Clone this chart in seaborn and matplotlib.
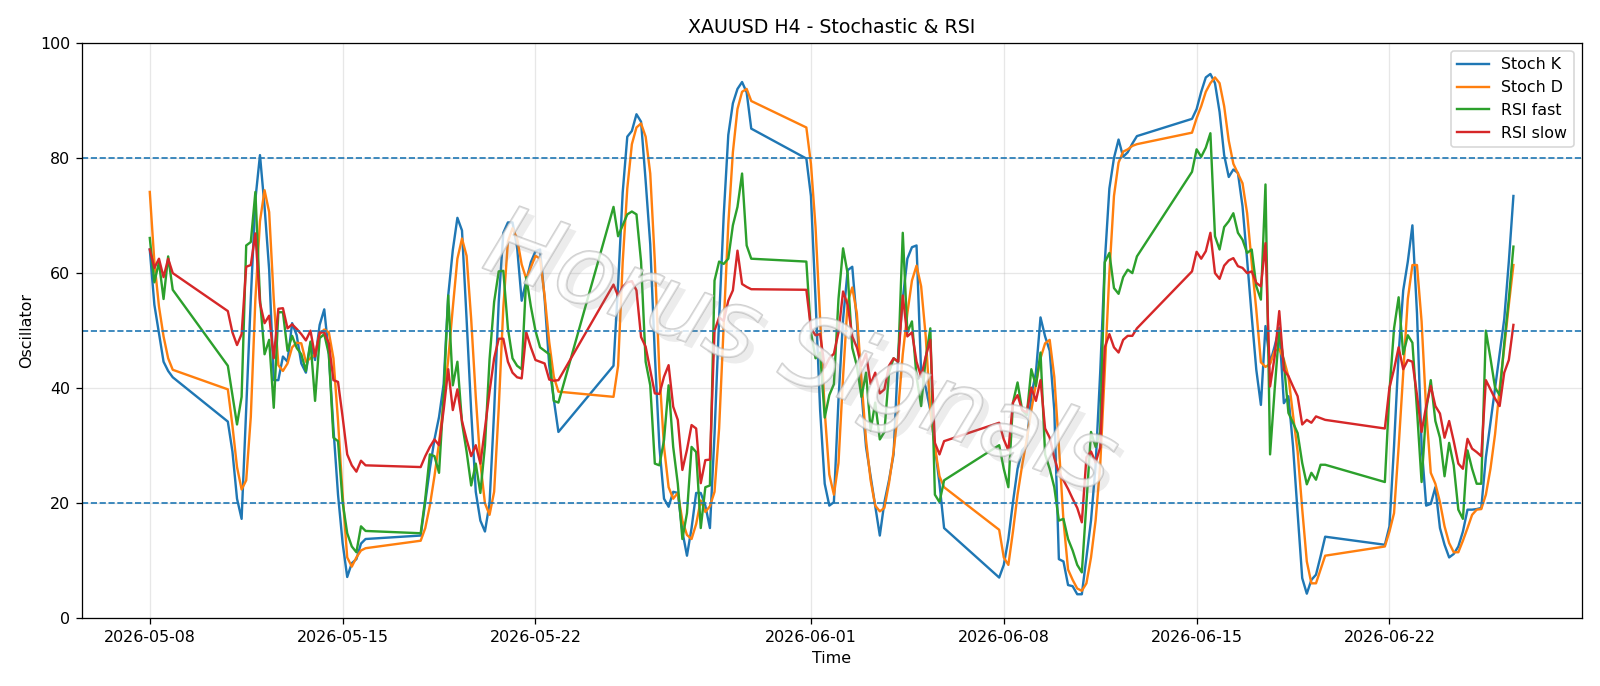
import numpy as np
import pandas as pd
import matplotlib
matplotlib.use("Agg")
import matplotlib.pyplot as plt
import matplotlib.patheffects as pe
import seaborn as sns

# H4 trading sessions (Sunday evening open -> Friday close)
sessions = [
    ("2026-05-08 00:00", "2026-05-08 20:00"),
    ("2026-05-10 20:00", "2026-05-15 20:00"),
    ("2026-05-17 20:00", "2026-05-22 20:00"),
    ("2026-05-24 20:00", "2026-05-29 20:00"),
    ("2026-05-31 20:00", "2026-06-05 20:00"),
    ("2026-06-07 20:00", "2026-06-12 20:00"),
    ("2026-06-14 20:00", "2026-06-19 16:00"),
    ("2026-06-21 20:00", "2026-06-26 12:00"),
]

stoch_k = [
    64.1, 54.5, 49.5, 44.6, 43.0, 41.9,
    34.2, 29.0, 20.8, 17.3, 36.2, 55.5, 72.8, 80.5, 71.5, 60.6, 41.4, 41.4, 45.5, 44.6, 51.3, 49.2, 44.3, 42.7, 47.8,
    44.9, 51.0, 53.7, 45.9, 33.0, 21.5, 13.1, 7.2, 9.6, 10.3, 13.0, 13.8,
    14.4, 20.2, 26.0, 31.1, 35.0, 40.7, 56.1, 64.0, 69.6, 67.4, 52.0, 36.0, 22.0, 17.0, 15.1, 20.0, 36.0, 55.0, 67.0,
    68.8, 68.8, 64.5, 55.2, 58.7, 61.9, 63.8, 64.1, 55.5, 43.9, 38.0, 32.4,
    43.9, 58.0, 74.0, 83.7, 84.7, 87.6, 86.3, 76.0, 65.0, 45.9, 29.8, 20.8, 19.4, 22.0, 21.8, 15.1, 10.9, 15.7, 21.8,
    21.8, 19.6, 15.7, 32.0, 52.0, 70.0, 84.0, 89.5, 92.0, 93.2, 91.4, 85.1,
    79.9, 73.4, 55.5, 36.2, 23.4, 19.6, 20.2, 38.0, 52.0, 60.5, 61.1, 51.6, 39.4, 29.8, 24.7, 19.6, 14.4, 20.2, 24.0,
    28.5, 45.9, 55.5, 62.5, 64.5, 64.8, 42.7, 40.1, 36.2, 29.8, 23.4, 15.7,
    7.1, 9.3, 13.8, 20.2, 26.0, 29.2, 30.1, 38.8, 42.7, 52.3, 49.0, 46.5, 36.2, 10.3, 9.9, 5.8, 5.6, 4.2, 4.2,
    10.6, 17.0, 26.6, 42.7, 61.9, 74.7, 80.0, 83.2, 80.2, 81.0, 82.5, 83.8,
    86.8, 88.5, 91.5, 94.0, 94.6, 93.0, 88.0, 80.5, 76.7, 78.0, 77.4, 71.6, 62.3, 52.5, 43.2, 37.1, 50.8, 44.4, 47.3,
    50.5, 37.4, 38.6, 29.9, 18.3, 7.0, 4.3, 6.7, 7.6, 10.8, 14.2,
    12.8, 16.0, 30.0, 46.0, 57.0, 62.0, 68.3, 53.0, 30.0, 19.6, 19.9, 22.8, 15.7, 12.8, 10.6, 11.2, 12.5, 15.1, 18.9,
    18.9, 19.0, 19.2, 28.0, 34.0, 40.0, 46.0, 52.0, 62.0, 73.4,
]

stoch_d = [
    74.1, 61.9, 54.2, 49.0, 45.2, 43.2,
    39.8, 33.5, 26.3, 22.4, 24.0, 35.0, 55.5, 69.0, 74.4, 70.6, 55.5, 44.0, 43.0, 44.3, 47.1, 47.9, 47.8, 44.6, 45.2,
    45.9, 49.4, 50.2, 49.7, 45.2, 34.3, 21.5, 10.6, 9.0, 10.6, 11.8, 12.2,
    13.5, 15.7, 19.6, 24.7, 30.5, 37.5, 45.0, 54.0, 62.5, 66.0, 63.0, 52.0, 38.5, 27.0, 20.0, 18.0, 22.0, 36.5, 54.0,
    65.5, 67.8, 66.0, 61.5, 59.0, 61.0, 63.0, 62.5, 56.0, 48.0, 42.0, 39.4,
    38.5, 43.9, 61.9, 74.7, 82.4, 85.3, 86.0, 83.7, 77.3, 62.0, 42.7, 29.8, 22.8, 20.8, 21.8, 17.0, 14.5, 13.8, 16.4,
    20.5, 18.5, 19.5, 22.0, 33.0, 51.0, 68.5, 81.0, 88.5, 91.5, 92.0, 89.9,
    85.3, 79.0, 68.0, 52.0, 36.0, 25.0, 21.5, 27.0, 42.0, 55.0, 57.5, 53.0, 41.5, 31.0, 24.0, 19.6, 18.6, 19.2, 23.5,
    29.0, 36.2, 45.9, 53.0, 58.7, 61.3, 57.7, 49.0, 36.2, 29.8, 24.7, 22.8,
    15.4, 10.6, 9.3, 15.1, 21.5, 26.6, 31.1, 36.2, 40.7, 45.2, 47.8, 48.4, 42.0, 30.0, 17.0, 8.5, 6.7, 5.2, 4.8,
    6.1, 10.6, 17.0, 26.6, 43.0, 60.0, 73.4, 79.2, 81.1, 81.5, 82.1, 82.4,
    84.4, 86.9, 89.0, 91.5, 93.0, 94.0, 93.0, 89.0, 83.0, 79.0, 77.3, 75.6, 70.4, 61.8, 53.6, 44.5, 43.7, 44.2, 46.5,
    46.8, 45.0, 42.0, 35.3, 29.0, 19.0, 9.9, 6.1, 6.1, 8.5, 10.9,
    12.5, 15.1, 18.3, 29.8, 42.7, 55.5, 61.4, 61.4, 51.6, 36.2, 25.3, 23.4, 20.2, 16.0, 13.1, 11.5, 11.5, 13.5, 15.7,
    18.0, 18.9, 19.0, 21.5, 26.0, 32.0, 40.0, 47.0, 54.5, 61.4,
]

rsi_fast = [
    66.1, 58.4, 61.9, 55.5, 62.9, 57.1,
    43.9, 38.8, 33.7, 38.5, 64.8, 65.4, 74.1, 55.5, 45.9, 48.4, 36.6, 53.2, 53.2, 46.5, 49.1, 47.0, 45.9, 43.0, 48.1,
    37.8, 48.7, 49.4, 45.9, 31.4, 30.8, 20.2, 14.8, 12.5, 11.5, 16.0, 15.2,
    14.8, 20.8, 28.5, 28.2, 25.3, 38.8, 56.1, 40.5, 44.6, 34.0, 29.0, 23.1, 26.9, 21.8, 30.0, 45.0, 55.0, 60.3, 60.4,
    50.4, 45.2, 43.9, 43.3, 59.3, 54.2, 50.0, 47.1, 46.5, 45.9, 37.8, 37.5,
    71.5, 66.4, 68.3, 70.2, 70.7, 70.2, 62.0, 44.6, 40.5, 26.9, 26.6, 31.0, 40.5, 29.8, 23.4, 13.8, 18.3, 29.8, 28.9,
    15.7, 22.8, 23.1, 58.7, 62.0, 61.6, 62.5, 68.3, 71.5, 77.3, 64.8, 62.5,
    62.0, 49.7, 45.2, 46.2, 34.9, 38.8, 40.7, 55.5, 64.3, 59.9, 47.0, 43.9, 38.5, 42.7, 32.7, 37.5, 31.1, 32.4, 42.7,
    45.2, 44.6, 67.0, 49.7, 51.6, 42.0, 36.9, 45.2, 50.4, 21.5, 20.2, 24.0,
    30.1, 26.0, 22.8, 37.5, 41.0, 36.2, 35.3, 43.3, 40.4, 46.2, 28.5, 26.0, 22.8, 17.0, 17.3, 13.8, 11.8, 9.3, 8.0,
    20.0, 32.4, 29.8, 32.4, 61.9, 63.5, 57.4, 56.4, 59.3, 60.6, 60.0, 62.9,
    77.6, 81.5, 80.2, 81.8, 84.3, 66.4, 64.1, 68.0, 69.0, 70.4, 67.0, 65.8, 63.5, 64.1, 57.7, 55.4, 75.4, 28.5, 39.8,
    50.2, 44.4, 35.7, 34.0, 32.2, 27.0, 23.3, 25.3, 24.1, 26.7, 26.7,
    23.7, 39.4, 50.4, 55.8, 45.9, 49.2, 47.9, 36.2, 23.7, 36.2, 41.4, 34.3, 31.4, 24.7, 30.5, 26.6, 18.9, 17.3, 29.2,
    26.0, 23.4, 23.4, 50.0, 45.2, 40.1, 38.8, 47.8, 55.5, 64.6,
]

rsi_slow = [
    64.1, 60.9, 62.5, 59.3, 62.5, 60.0,
    53.4, 49.7, 47.5, 49.4, 61.1, 61.4, 66.9, 54.8, 51.3, 52.6, 45.2, 53.8, 53.9, 50.4, 51.1, 50.3, 49.4, 48.3, 50.0,
    45.5, 49.7, 49.7, 47.8, 41.4, 41.1, 35.0, 28.5, 26.6, 25.5, 27.4, 26.6,
    26.3, 28.2, 29.8, 31.1, 30.1, 36.2, 43.3, 36.2, 39.8, 34.3, 31.1, 28.2, 30.1, 26.9, 33.0, 39.4, 45.2, 48.6, 48.6,
    44.6, 42.7, 41.9, 41.7, 49.7, 47.1, 44.9, 44.6, 44.3, 41.5, 41.3, 41.4,
    58.0, 56.0, 57.6, 58.4, 58.6, 57.0, 48.9, 47.2, 43.1, 39.1, 39.0, 42.0, 44.0, 36.8, 34.5, 25.8, 29.3, 33.6, 33.0,
    23.5, 27.5, 27.6, 50.0, 52.3, 51.7, 55.2, 57.0, 63.9, 58.1, 57.6, 57.2,
    57.1, 50.4, 49.2, 49.4, 43.6, 45.2, 46.0, 49.7, 56.8, 54.5, 49.0, 47.1, 43.9, 46.0, 40.7, 42.7, 39.1, 39.8, 43.9,
    45.2, 44.6, 56.1, 49.0, 49.7, 44.6, 42.0, 45.5, 48.4, 30.5, 28.5, 30.8,
    34.0, 31.1, 29.2, 37.5, 38.8, 36.2, 35.8, 40.1, 37.8, 41.4, 33.0, 31.4, 27.9, 25.3, 24.0, 22.5, 20.8, 19.2, 16.7,
    28.0, 29.0, 27.1, 29.7, 47.1, 49.4, 47.1, 46.2, 48.4, 49.1, 49.1, 50.4,
    60.3, 63.7, 62.5, 63.8, 67.0, 60.0, 59.0, 61.3, 62.2, 62.6, 61.2, 60.9, 60.0, 60.3, 58.3, 57.7, 65.2, 40.3, 45.5,
    53.4, 43.2, 42.1, 40.3, 38.6, 33.7, 34.5, 34.0, 35.1, 34.8, 34.5,
    33.0, 40.1, 43.3, 47.1, 43.3, 44.9, 44.6, 38.8, 32.4, 36.9, 40.4, 36.9, 35.6, 31.4, 34.3, 30.8, 26.9, 26.0, 31.2,
    29.5, 28.9, 28.2, 41.4, 39.8, 38.2, 36.9, 42.7, 44.9, 51.0,
]

series_names = ["Stoch K", "Stoch D", "RSI fast", "RSI slow"]
levels = [20, 50, 80]

times = pd.DatetimeIndex(np.concatenate(
    [pd.date_range(a, b, freq="4h").values for a, b in sessions]))

df = pd.DataFrame({"time": times, "Stoch K": stoch_k, "Stoch D": stoch_d,
                   "RSI fast": rsi_fast, "RSI slow": rsi_slow})

DPI = 1600 / 14
fig, ax = plt.subplots(figsize=(14, 686 / DPI), dpi=DPI)
fig.subplots_adjust(left=0.051, right=0.9885, top=0.9375, bottom=0.0985)

palette = sns.color_palette("tab10", 4)
for name, col in zip(series_names, palette):
    sns.lineplot(data=df, x="time", y=name, color=col, label=name,
                 linewidth=1.5, ax=ax)

for lv in levels:
    ax.axhline(lv, linestyle="--", linewidth=1.05, color="C0")

ax.set_ylim(0, 100)
ax.set_title("XAUUSD H4 - Stochastic & RSI")
ax.set_xlabel("Time")
ax.set_ylabel("Oscillator")
ax.grid(True, alpha=0.3)
ax.legend(loc="upper right")

# watermark
fig.text(0.5, 0.482, "Horus Signals", fontsize=61, color="white",
         alpha=0.3, rotation=-20, ha="center", va="center",
         fontstyle="italic", zorder=10,
         path_effects=[pe.withSimplePatchShadow(offset=(4, -4), shadow_rgbFace="#808080", alpha=0.15),
                       pe.Stroke(linewidth=1.2, foreground="#b0b0b0", alpha=0.6),
                       pe.Normal()])

fig.savefig("out.png", dpi=DPI)
